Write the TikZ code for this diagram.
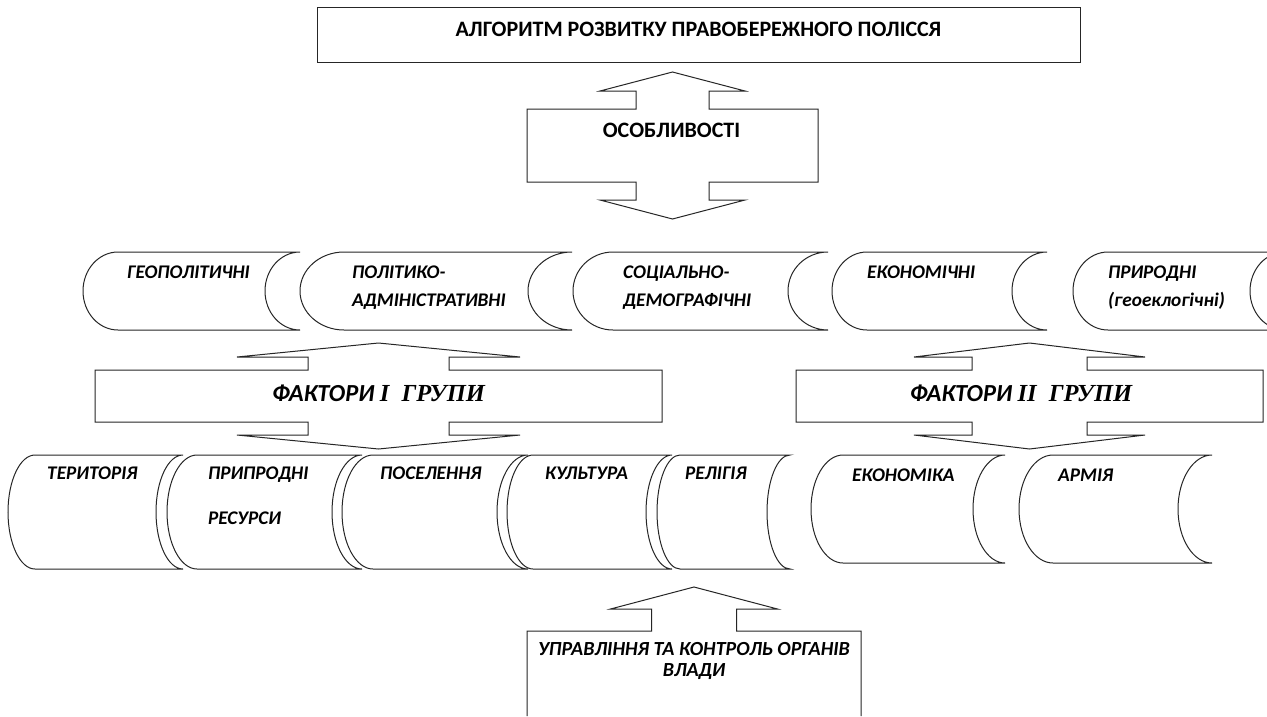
\documentclass[tikz,border=0pt]{standalone}
\usepackage{fontspec}
\setmainfont{Carlito}
\newfontfamily\romfont{Liberation Serif}

% stored-data shape: top left corner, top right corner, top, bottom, arc depth
\newcommand{\storedshape}[5]{%
  \pgfmathsetmacro{\sdhalf}{(#4-#3)/2}
  \draw[outline] (#1,#3) arc[start angle=90, end angle=270, x radius=#5pt, y radius=\sdhalf pt]
    -- (#2,#4) arc[start angle=270, end angle=90, x radius=#5pt, y radius=\sdhalf pt] -- cycle;
}

% up-down arrow callout: box left, box right, top, bottom, centre, stem half, head half, stem, head
\newcommand{\udcallout}[9]{%
  \draw[outline] (#1,#3) -- ({#5-#6},#3) -- ({#5-#6},{#3-#8}) -- ({#5-#7},{#3-#8})
    -- (#5,{#3-#8-#9}) -- ({#5+#7},{#3-#8}) -- ({#5+#6},{#3-#8}) -- ({#5+#6},#3)
    -- (#2,#3) -- (#2,#4) -- ({#5+#6},#4) -- ({#5+#6},{#4+#8}) -- ({#5+#7},{#4+#8})
    -- (#5,{#4+#8+#9}) -- ({#5-#7},{#4+#8}) -- ({#5-#6},{#4+#8}) -- ({#5-#6},#4)
    -- (#1,#4) -- cycle;
}

\begin{document}
\begin{tikzpicture}[
    x=1pt, y=-1pt,
    outline/.style={
        draw=black!85,
        line width=1pt
    },
    lbl/.style={
        anchor=north west,
        inner sep=0pt,
        align=left,
        font=\fontsize{19.3}{28}\selectfont\bfseries\itshape
    },
    heading/.style={
        anchor=base,
        inner sep=0pt,
        font=\fontsize{22}{26}\selectfont\bfseries
    },
    group/.style={
        anchor=base,
        inner sep=0pt,
        font=\fontsize{24.5}{28}\selectfont\bfseries\itshape
    }
]

\useasboundingbox (0,0) rectangle (1267,716);
\clip (0,0) rectangle (1267,716);
\fill[white] (0,0) rectangle (1267,716);

% Title
\draw[outline] (317,7) rectangle (1080,62);
\node (title) [heading] at (698.5,36) {АЛГОРИТМ РОЗВИТКУ ПРАВОБЕРЕЖНОГО ПОЛІССЯ};

% Features
\udcallout{527}{818}{109}{182}{672.5}{36.5}{72.5}{18}{19}
\node (osob) [heading] at (671.5,137) {ОСОБЛИВОСТІ};

% Upper row of factors
\storedshape{118}{300}{252}{330}{35}
\storedshape{344}{572}{252}{330}{44}
\storedshape{613}{828}{252}{330}{40}
\storedshape{867}{1047}{252}{330}{35}
\storedshape{1108}{1285}{252}{330}{35}
\node (geo) [lbl] at (127,266) {ГЕОПОЛІТИЧНІ};
\node (polit) [lbl] at (352,266) {ПОЛІТИКО-\\АДМІНІСТРАТИВНІ};
\node (soc) [lbl] at (623,266) {СОЦІАЛЬНО-\\ДЕМОГРАФІЧНІ};
\node (econ) [lbl] at (867,266) {ЕКОНОМІЧНІ};
\node (prir) [lbl] at (1108,266) {ПРИРОДНІ\\(геоеклогічні)};

% Factor groups
\udcallout{95}{662}{370}{422}{378.5}{70.5}{141.5}{13}{14}
\node (factI) [group] at (378.5,401) {ФАКТОРИ {\romfont I\ \ ГРУПИ}};
\udcallout{796}{1263}{370}{422}{1029.5}{57.5}{115.5}{13}{14}
\node (factII) [group] at (1021,401) {ФАКТОРИ {\romfont II\ \ ГРУПИ}};

% Lower row, group I
\storedshape{35}{183}{455}{569}{27}
\storedshape{197}{362}{455}{569}{30}
\storedshape{373}{528}{455}{569}{31}
\storedshape{533}{672}{455}{569}{26}
\storedshape{680}{790}{455}{569}{23}
\node (ter) [lbl] at (47,467) {ТЕРИТОРІЯ};
\node (res) [lbl] at (208,467) {ПРИПРОДНІ\\[17pt]РЕСУРСИ};
\node (pos) [lbl] at (380,467) {ПОСЕЛЕННЯ};
\node (cult) [lbl] at (545,467) {КУЛЬТУРА};
\node (rel) [lbl] at (685,467) {РЕЛІГІЯ};

% Lower row, group II
\storedshape{843}{1005}{455}{563}{32}
\storedshape{1053}{1212}{455}{563}{34}
\node (ekon) [lbl] at (852,469) {ЕКОНОМІКА};
\node (army) [lbl] at (1058,469) {АРМІЯ};

% Government control
\draw[outline] (527,716) -- (527,631) -- (651.5,631) -- (651.5,609) -- (610.5,609)
    -- (694,587) -- (777.5,609) -- (736.5,609) -- (736.5,631) -- (861,631) -- (861,716);
\node (upr) [lbl, anchor=north, align=center, font=\fontsize{20}{21}\selectfont\bfseries\itshape]
    at (694,642) {УПРАВЛІННЯ ТА КОНТРОЛЬ ОРГАНІВ\\ВЛАДИ};

\end{tikzpicture}
\end{document}
